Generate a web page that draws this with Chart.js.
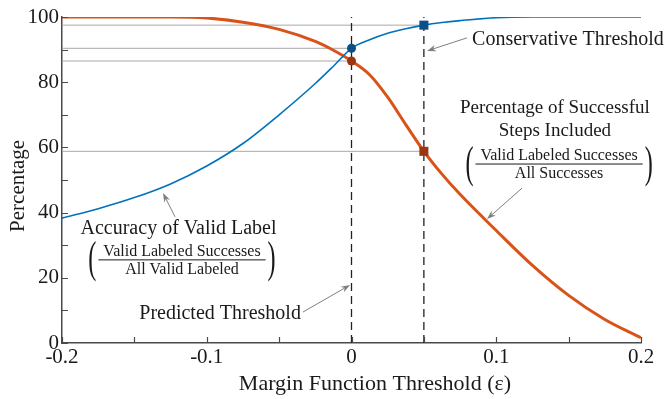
<!DOCTYPE html>
<html>
<head>
<meta charset="utf-8">
<script src="https://cdn.jsdelivr.net/npm/chart.js@4/dist/chart.umd.min.js"></script>
<style>
  html, body { margin: 0; padding: 0; background: #fff; }
  #wrap { width: 664px; height: 399px; }
</style>
</head>
<body>
<div id="wrap"><canvas id="c" width="664" height="399"></canvas></div>
<script>
// Margin function threshold (epsilon) sampled along the x axis
const thresholds = [-0.2, -0.175, -0.15, -0.125, -0.1, -0.075, -0.05, -0.025, -0.0125, 0, 0.0125, 0.025, 0.0375, 0.05, 0.0625, 0.075, 0.1, 0.125, 0.15, 0.175, 0.2];
// Accuracy of valid label (%)
const accuracyValid = [38.3, 41.2, 44.6, 48.8, 54.3, 61.2, 70.0, 79.6, 84.9, 90.4, 93.0, 95.0, 96.4, 97.5, 98.3, 98.9, 99.8, 100, 100, 100, 100];
// Percentage of successful steps included (%)
const stepsIncluded = [100, 100, 100, 100, 99.7, 98.4, 96.2, 92.5, 89.8, 86.5, 82.3, 75.4, 67.0, 58.8, 51.8, 45.6, 34.5, 23.8, 14.6, 7.2, 1.6];

// Thresholds and the values read at them
const predictedThreshold = 0;
const conservativeThreshold = 0.05;
const accuracyAtPredicted = 90.4;
const includedAtPredicted = 86.5;
const accuracyAtConservative = 97.5;
const includedAtConservative = 58.8;

// Axis ranges, tick spacing and titles
const xRange = [-0.2, 0.2];
const yRange = [0, 100];
const xTickStep = 0.05;
const yTickStep = 10;
const xTitle = 'Margin Function Threshold (\u03B5)';
const yTitle = 'Percentage';

const BLUE = '#0072BD';
const ORANGE = '#D95319';
const BLUE_MARK = '#0b4f88';
const ORANGE_MARK = '#9c3512';
const GUIDE = '#a8a8a8';
const INK = '#1a1a1a';
const SERIF = "'Liberation Serif', 'Times New Roman', serif";

Chart.defaults.font.family = SERIF;
Chart.defaults.color = INK;

const series = (ys) => thresholds.map((x, i) => ({ x, y: ys[i] }));
const hLine = (xEnd, y) => [{ x: xRange[0], y }, { x: xEnd, y }];
const vLine = (x) => [{ x, y: yRange[0] }, { x, y: yRange[1] }];

const lineStyle = (color, width, extra) => Object.assign({
  borderColor: color, borderWidth: width, pointRadius: 0, fill: false, tension: 0
}, extra || {});

// Text callouts, anchored in data units
const callouts = [
  { lines: ['Conservative Threshold'], x: 0.0833, y: 91.4, size: 20, align: 'left' },
  { lines: ['Percentage of Successful', 'Steps Included'], x: 0.1405, y: 70.6, size: 19, lead: 23, align: 'center' },
  { lines: ['Accuracy of Valid Label'], x: -0.1195, y: 33.4, size: 20, align: 'center' },
  { lines: ['Predicted Threshold'], x: -0.0908, y: 7.4, size: 20, align: 'center' }
];
const fractions = [
  { num: 'Valid Labeled Successes', den: 'All Successes', x: 0.1434, y: 54.9 },
  { num: 'Valid Labeled Successes', den: 'All Valid Labeled', x: -0.1171, y: 25.5 }
];
const arrows = [
  { from: [0.0798, 93.6], to: [0.0522, 89.6] },
  { from: [0.1178, 47.5], to: [0.0936, 38.0] },
  { from: [-0.1219, 38.7], to: [-0.1302, 46.0] },
  { from: [-0.0335, 9.5], to: [-0.001, 17.8] }
];

function drawArrow(ctx, x1, y1, x2, y2) {
  const ang = Math.atan2(y2 - y1, x2 - x1);
  const len = 9, half = 3.2;
  ctx.save();
  ctx.strokeStyle = '#7f7f7f';
  ctx.fillStyle = '#7f7f7f';
  ctx.lineWidth = 1;
  ctx.beginPath();
  ctx.moveTo(x1, y1);
  ctx.lineTo(x2 - Math.cos(ang) * len * 0.7, y2 - Math.sin(ang) * len * 0.7);
  ctx.stroke();
  ctx.translate(x2, y2);
  ctx.rotate(ang);
  ctx.beginPath();
  ctx.moveTo(0, 0);
  ctx.lineTo(-len, -half);
  ctx.lineTo(-len * 0.7, 0);
  ctx.lineTo(-len, half);
  ctx.closePath();
  ctx.fill();
  ctx.restore();
}

function drawParen(ctx, ch, x, y) {
  ctx.save();
  ctx.translate(x, y);
  ctx.scale(0.55, 1);
  ctx.font = '44px ' + SERIF;
  ctx.textAlign = 'center';
  ctx.textBaseline = 'middle';
  ctx.fillText(ch, 0, 0);
  ctx.restore();
}

const decorations = {
  id: 'decorations',
  afterDraw(chart) {
    const ctx = chart.ctx;
    const xs = chart.scales.x, ys = chart.scales.y;
    const area = chart.chartArea;

    // inward tick marks
    ctx.save();
    ctx.strokeStyle = '#4a4a4a';
    ctx.lineWidth = 1.2;
    ctx.beginPath();
    xs.ticks.forEach(t => {
      const px = Math.round(xs.getPixelForValue(t.value)) + 0.5;
      ctx.moveTo(px, area.bottom);
      ctx.lineTo(px, area.bottom - 6);
    });
    ys.ticks.forEach(t => {
      const py = Math.round(ys.getPixelForValue(t.value)) + 0.5;
      ctx.moveTo(area.left, py);
      ctx.lineTo(area.left + 6, py);
    });
    ctx.stroke();
    ctx.restore();

    // axis titles
    ctx.save();
    ctx.fillStyle = INK;
    ctx.textAlign = 'center';
    ctx.textBaseline = 'alphabetic';
    ctx.font = '22px ' + SERIF;
    ctx.fillText(xTitle, xs.getPixelForValue(0.0162), 390);
    ctx.translate(24, ys.getPixelForValue(48.2));
    ctx.rotate(-Math.PI / 2);
    ctx.font = '21px ' + SERIF;
    ctx.fillText(yTitle, 0, 0);
    ctx.restore();

    // callout text
    ctx.save();
    ctx.fillStyle = INK;
    ctx.textBaseline = 'alphabetic';
    callouts.forEach(c => {
      ctx.font = c.size + 'px ' + SERIF;
      ctx.textAlign = c.align;
      const px = xs.getPixelForValue(c.x), py = ys.getPixelForValue(c.y);
      c.lines.forEach((s, i) => ctx.fillText(s, px, py + i * (c.lead || 0)));
    });

    // bracketed fractions
    fractions.forEach(f => {
      const cx = xs.getPixelForValue(f.x), by = ys.getPixelForValue(f.y);
      ctx.font = '16px ' + SERIF;
      ctx.textAlign = 'center';
      const w = Math.max(ctx.measureText(f.num).width, ctx.measureText(f.den).width) + 10;
      ctx.fillText(f.num, cx, by - 4);
      ctx.fillText(f.den, cx, by + 14);
      ctx.fillRect(cx - w / 2, by - 0.5, w, 1);
      drawParen(ctx, '(', cx - w / 2 - 6, by + 1);
      drawParen(ctx, ')', cx + w / 2 + 6, by + 1);
    });
    ctx.restore();

    arrows.forEach(a => drawArrow(ctx,
      xs.getPixelForValue(a.from[0]), ys.getPixelForValue(a.from[1]),
      xs.getPixelForValue(a.to[0]), ys.getPixelForValue(a.to[1])));
  }
};

const isMultiple = (v, step) => Math.abs(Math.round(v / step) * step - v) < 1e-9;

new Chart(document.getElementById('c'), {
  type: 'line',
  data: {
    datasets: [
      // markers (topmost)
      { data: [{ x: predictedThreshold, y: accuracyAtPredicted }], showLine: false,
        pointStyle: 'circle', pointRadius: 4.5, pointBackgroundColor: BLUE_MARK, pointBorderColor: BLUE_MARK, pointBorderWidth: 0 },
      { data: [{ x: predictedThreshold, y: includedAtPredicted }], showLine: false,
        pointStyle: 'circle', pointRadius: 4.5, pointBackgroundColor: ORANGE_MARK, pointBorderColor: ORANGE_MARK, pointBorderWidth: 0 },
      { data: [{ x: conservativeThreshold, y: accuracyAtConservative }], showLine: false,
        pointStyle: 'rect', pointRadius: 6.4, pointBackgroundColor: BLUE_MARK, pointBorderColor: BLUE_MARK, pointBorderWidth: 0 },
      { data: [{ x: conservativeThreshold, y: includedAtConservative }], showLine: false,
        pointStyle: 'rect', pointRadius: 6.4, pointBackgroundColor: ORANGE_MARK, pointBorderColor: ORANGE_MARK, pointBorderWidth: 0 },
      // curves
      lineStyle(BLUE, 1.6, { data: series(accuracyValid), cubicInterpolationMode: 'monotone' }),
      lineStyle(ORANGE, 3, { data: series(stepsIncluded), cubicInterpolationMode: 'monotone' }),
      // threshold markers
      lineStyle('#222', 1.3, { data: vLine(predictedThreshold), borderDash: [8, 5] }),
      lineStyle('#222', 1.3, { data: vLine(conservativeThreshold), borderDash: [8, 5] }),
      // guide lines to the axis
      lineStyle(GUIDE, 1, { data: hLine(conservativeThreshold, accuracyAtConservative) }),
      lineStyle(GUIDE, 1, { data: hLine(predictedThreshold, accuracyAtPredicted) }),
      lineStyle(GUIDE, 1, { data: hLine(predictedThreshold, includedAtPredicted) }),
      lineStyle(GUIDE, 1, { data: hLine(conservativeThreshold, includedAtConservative) })
    ]
  },
  options: {
    responsive: false,
    animation: false,
    events: [],
    layout: { padding: { left: 0, top: 17, right: 23, bottom: 0 } },
    plugins: { legend: { display: false }, tooltip: { enabled: false } },
    scales: {
      x: {
        type: 'linear',
        min: xRange[0], max: xRange[1],
        grid: { drawOnChartArea: false, drawTicks: false },
        border: { display: true, color: '#4a4a4a', width: 1.5 },
        ticks: {
          stepSize: xTickStep, autoSkip: false, maxRotation: 0, padding: 2,
          font: { size: 21 }, color: INK,
          callback: (v) => isMultiple(v, 0.1) ? (Math.abs(v) < 1e-9 ? '0' : v.toFixed(1)) : ''
        },
        afterFit: (s) => { s.height = 56; }
      },
      y: {
        type: 'linear',
        min: yRange[0], max: yRange[1],
        grid: { drawOnChartArea: false, drawTicks: false },
        border: { display: true, color: '#4a4a4a', width: 1.5 },
        ticks: {
          stepSize: yTickStep, autoSkip: false, padding: 3,
          font: { size: 21 }, color: INK,
          callback: (v) => isMultiple(v, 20) ? String(v) : ''
        },
        afterFit: (s) => { s.width = 62; }
      }
    }
  },
  plugins: [decorations]
});
</script>
</body>
</html>
